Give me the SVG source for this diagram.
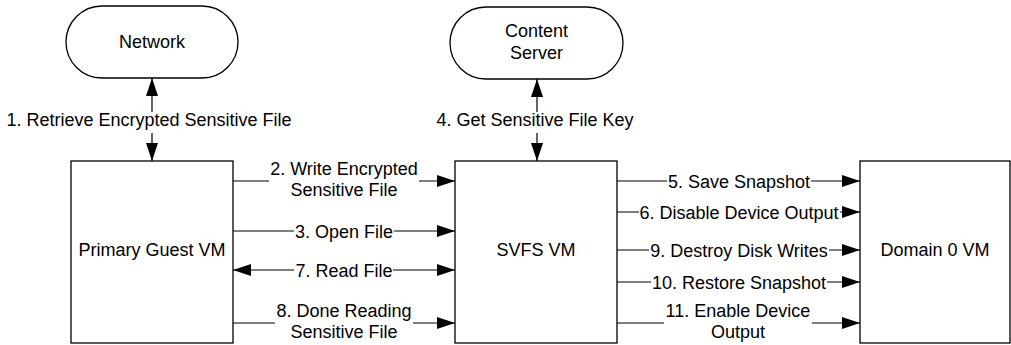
<svg xmlns="http://www.w3.org/2000/svg" width="1011" height="345" viewBox="0 0 1011 345">
<style>
.shape{fill:#fff;stroke:#000;stroke-width:1.3}
.t{font-family:"Liberation Sans",Arial,sans-serif;font-size:18px;fill:#000;text-anchor:middle}
.c{stroke:#000;stroke-width:1.2;fill:none}
.bg{fill:#fff;stroke:none}
</style>
<defs>
<marker id="ah" markerUnits="userSpaceOnUse" markerWidth="18" markerHeight="12" refX="18" refY="6" orient="auto-start-reverse" viewBox="0 0 18 12">
<path d="M0,0 L18,6 L0,12 Z" fill="#000"/>
</marker>
</defs>
<rect width="1011" height="345" fill="#fff"/>

<g id="connectors">
<!-- 1 -->
<line class="c" x1="152" y1="78" x2="152" y2="161" marker-start="url(#ah)" marker-end="url(#ah)"/>
<rect class="bg" x="5" y="112" width="288" height="21"/>
<text class="t" x="149" y="126">1. Retrieve Encrypted Sensitive File</text>
<!-- 4 -->
<line class="c" x1="537" y1="79" x2="537" y2="161" marker-start="url(#ah)" marker-end="url(#ah)"/>
<rect class="bg" x="435" y="112" width="200" height="21"/>
<text class="t" x="535" y="126">4. Get Sensitive File Key</text>
<!-- 2 -->
<line class="c" x1="233" y1="181" x2="455" y2="181" marker-end="url(#ah)"/>
<rect class="bg" x="269" y="178" width="150" height="6"/>
<text class="t" x="344" y="175">2. Write Encrypted</text>
<text class="t" x="344" y="196">Sensitive File</text>
<!-- 3 -->
<line class="c" x1="233" y1="231" x2="455" y2="231" marker-end="url(#ah)"/>
<rect class="bg" x="294" y="228" width="100" height="6"/>
<text class="t" x="344" y="237.5">3. Open File</text>
<!-- 7 -->
<line class="c" x1="233" y1="270" x2="455" y2="270" marker-start="url(#ah)" marker-end="url(#ah)"/>
<rect class="bg" x="294" y="267" width="99" height="6"/>
<text class="t" x="344" y="276.5">7. Read File</text>
<!-- 8 -->
<line class="c" x1="233" y1="323" x2="455" y2="323" marker-end="url(#ah)"/>
<rect class="bg" x="275" y="320" width="138" height="6"/>
<text class="t" x="344" y="317">8. Done Reading</text>
<text class="t" x="344" y="338">Sensitive File</text>
<!-- 5 -->
<line class="c" x1="617" y1="181" x2="860" y2="181" marker-end="url(#ah)"/>
<rect class="bg" x="667" y="178" width="144" height="6"/>
<text class="t" x="739" y="187.5">5. Save Snapshot</text>
<!-- 6 -->
<line class="c" x1="617" y1="212" x2="860" y2="212" marker-end="url(#ah)"/>
<rect class="bg" x="639" y="209" width="201" height="6"/>
<text class="t" x="739" y="218.5">6. Disable Device Output</text>
<!-- 9 -->
<line class="c" x1="617" y1="250" x2="860" y2="250" marker-end="url(#ah)"/>
<rect class="bg" x="649" y="247" width="180" height="6"/>
<text class="t" x="739" y="256.5">9. Destroy Disk Writes</text>
<!-- 10 -->
<line class="c" x1="617" y1="282" x2="860" y2="282" marker-end="url(#ah)"/>
<rect class="bg" x="651" y="279" width="176" height="6"/>
<text class="t" x="739" y="288.5">10. Restore Snapshot</text>
<!-- 11 -->
<line class="c" x1="617" y1="323" x2="860" y2="323" marker-end="url(#ah)"/>
<rect class="bg" x="664" y="320" width="148" height="6"/>
<text class="t" x="738" y="317">11. Enable Device</text>
<text class="t" x="738" y="338">Output</text>
</g>

<g id="network">
<rect class="shape" x="66" y="6" width="172" height="72" rx="36" ry="36"/>
<text class="t" x="152" y="48">Network</text>
</g>
<g id="content-server">
<rect class="shape" x="450" y="7" width="173" height="72" rx="36" ry="36"/>
<text class="t" x="536.5" y="37">Content</text>
<text class="t" x="536.5" y="59">Server</text>
</g>
<g id="primary-guest-vm">
<rect class="shape" x="71" y="161" width="162" height="182"/>
<text class="t" x="152" y="256">Primary Guest VM</text>
</g>
<g id="svfs-vm">
<rect class="shape" x="455" y="161" width="162" height="182"/>
<text class="t" x="536" y="256">SVFS VM</text>
</g>
<g id="domain0-vm">
<rect class="shape" x="860" y="161" width="150" height="182"/>
<text class="t" x="935" y="256">Domain 0 VM</text>
</g>
</svg>
